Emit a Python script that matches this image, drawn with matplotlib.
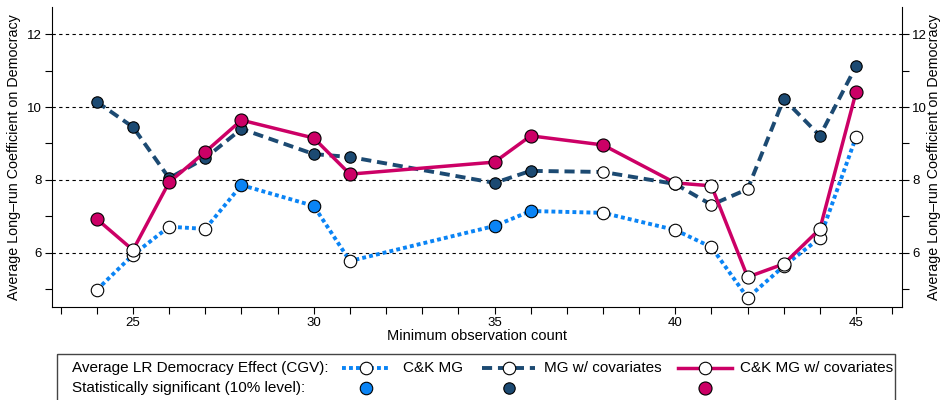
import matplotlib.pyplot as plt
from matplotlib.lines import Line2D
from matplotlib.patches import Rectangle
from matplotlib.ticker import MultipleLocator

plt.rcParams['font.family'] = ['Liberation Sans', 'DejaVu Sans']

# minimum observation count
obs = [24, 25, 26, 27, 28, 30, 31, 35, 36, 38, 40, 41, 42, 43, 44, 45]

# C&K MG
ck_mg = [4.99, 5.95, 6.72, 6.66, 7.86, 7.29, 5.78, 6.74, 7.15, 7.10, 6.63, 6.16, 4.77, 5.64, 6.41, 9.18]
ck_mg_sig = [0, 0, 0, 0, 1, 1, 0, 1, 1, 0, 0, 0, 0, 0, 0, 0]

# MG w/ covariates
mg_cov = [10.14, 9.45, 8.05, 8.60, 9.40, 8.71, 8.63, 7.92, 8.25, 8.22, 7.89, 7.32, 7.75, 10.22, 9.21, 11.12]
mg_cov_sig = [1, 1, 1, 1, 1, 1, 1, 1, 1, 0, 0, 0, 0, 1, 1, 1]

# C&K MG w/ covariates
ck_cov = [6.93, 6.08, 7.94, 8.77, 9.64, 9.15, 8.16, 8.49, 9.21, 8.96, 7.92, 7.84, 5.34, 5.70, 6.66, 10.41]
ck_cov_sig = [1, 0, 1, 1, 1, 1, 1, 1, 1, 1, 0, 0, 0, 0, 0, 1]

c_blue = '#0a84f5'
c_dark = '#1c4a72'
c_mag = '#cc0066'

series = [
    ("C&K MG", ck_mg, ck_mg_sig, c_blue, (0, (1, 0.8)), 9.0, 2.8),
    ("MG w/ covariates", mg_cov, mg_cov_sig, c_dark, (0, (2.6, 1.5)), 8.2, 2.8),
    ("C&K MG w/ covariates", ck_cov, ck_cov_sig, c_mag, '-', 9.4, 2.5),
]

fig = plt.figure(figsize=(9.44, 4), dpi=100)
ax = fig.add_axes([52/944, 1-307/400, (902-52)/944, 300/400])

for i, (name, vals, sig, col, ls, ms, lw) in enumerate(series):
    z = 3 + i
    ax.plot(obs, vals, color=col, linestyle=ls, linewidth=lw, zorder=z,
            dash_capstyle='butt', solid_capstyle='butt')
    for x, v, s in zip(obs, vals, sig):
        ax.plot(x, v, 'o', markersize=ms, markerfacecolor=col if s else 'white',
                markeredgecolor='black', markeredgewidth=0.8, zorder=z + 0.5)

ax.set_xlim(22.76, 46.27)
ax.set_ylim(4.52, 12.74)
ax.xaxis.set_major_locator(MultipleLocator(5))
ax.xaxis.set_minor_locator(MultipleLocator(1))
ax.yaxis.set_major_locator(MultipleLocator(2))
ax.yaxis.set_minor_locator(MultipleLocator(1))
ax.tick_params(which='both', length=5, width=0.8, direction='out', labelsize=9.5,
               right=True, labelright=True, top=False, pad=2.5)
ax.spines['top'].set_visible(False)
for s in ['left', 'right', 'bottom']:
    ax.spines[s].set_linewidth(0.8)

for g in [6, 8, 10, 12]:
    ax.axhline(g, color='black', linestyle=(0, (3, 3)), linewidth=0.8, zorder=1)

ylab = "Average Long\u2013run Coefficient on Democracy"
ax.set_ylabel(ylab, fontsize=10.3, labelpad=4)
ax.set_xlabel("Minimum observation count", fontsize=10.5, labelpad=0)
fig.text(934/944, 1-157/400, ylab, rotation=90, fontsize=10.3, ha='center', va='center')

# legend drawn in pixel coordinates
lg = fig.add_axes([0, 0, 1, 1], zorder=10)
lg.set_xlim(0, 944)
lg.set_ylim(400, 0)
lg.axis('off')
lg.patch.set_alpha(0)
lg.add_patch(Rectangle((57, 354), 838, 60, fill=False, edgecolor='#444444',
                       linewidth=1.0, clip_on=False))
lg.text(72, 368, "Average LR Democracy Effect (CGV):", fontsize=11, va='center')
lg.text(72, 388, "Statistically significant (10% level):", fontsize=11, va='center')

leg_x = [(342, 390, 403), (482, 535, 544), (678, 732, 740)]
for (name, vals, sig, col, ls, ms, lw), (x0, x1, xt) in zip(series, leg_x):
    xm = (x0 + x1) / 2
    lg.add_line(Line2D([x0, x1], [368, 368], color=col, linestyle=ls, linewidth=lw,
                       dash_capstyle='butt'))
    lg.add_line(Line2D([xm], [368], marker='o', markersize=9, markerfacecolor='white',
                       markeredgecolor='black', markeredgewidth=0.8))
    lg.add_line(Line2D([xm], [388], marker='o', markersize=ms, markerfacecolor=col,
                       markeredgecolor='black', markeredgewidth=0.8))
    lg.text(xt, 368, name, fontsize=11, va='center')

fig.savefig('out.png', dpi=100)
